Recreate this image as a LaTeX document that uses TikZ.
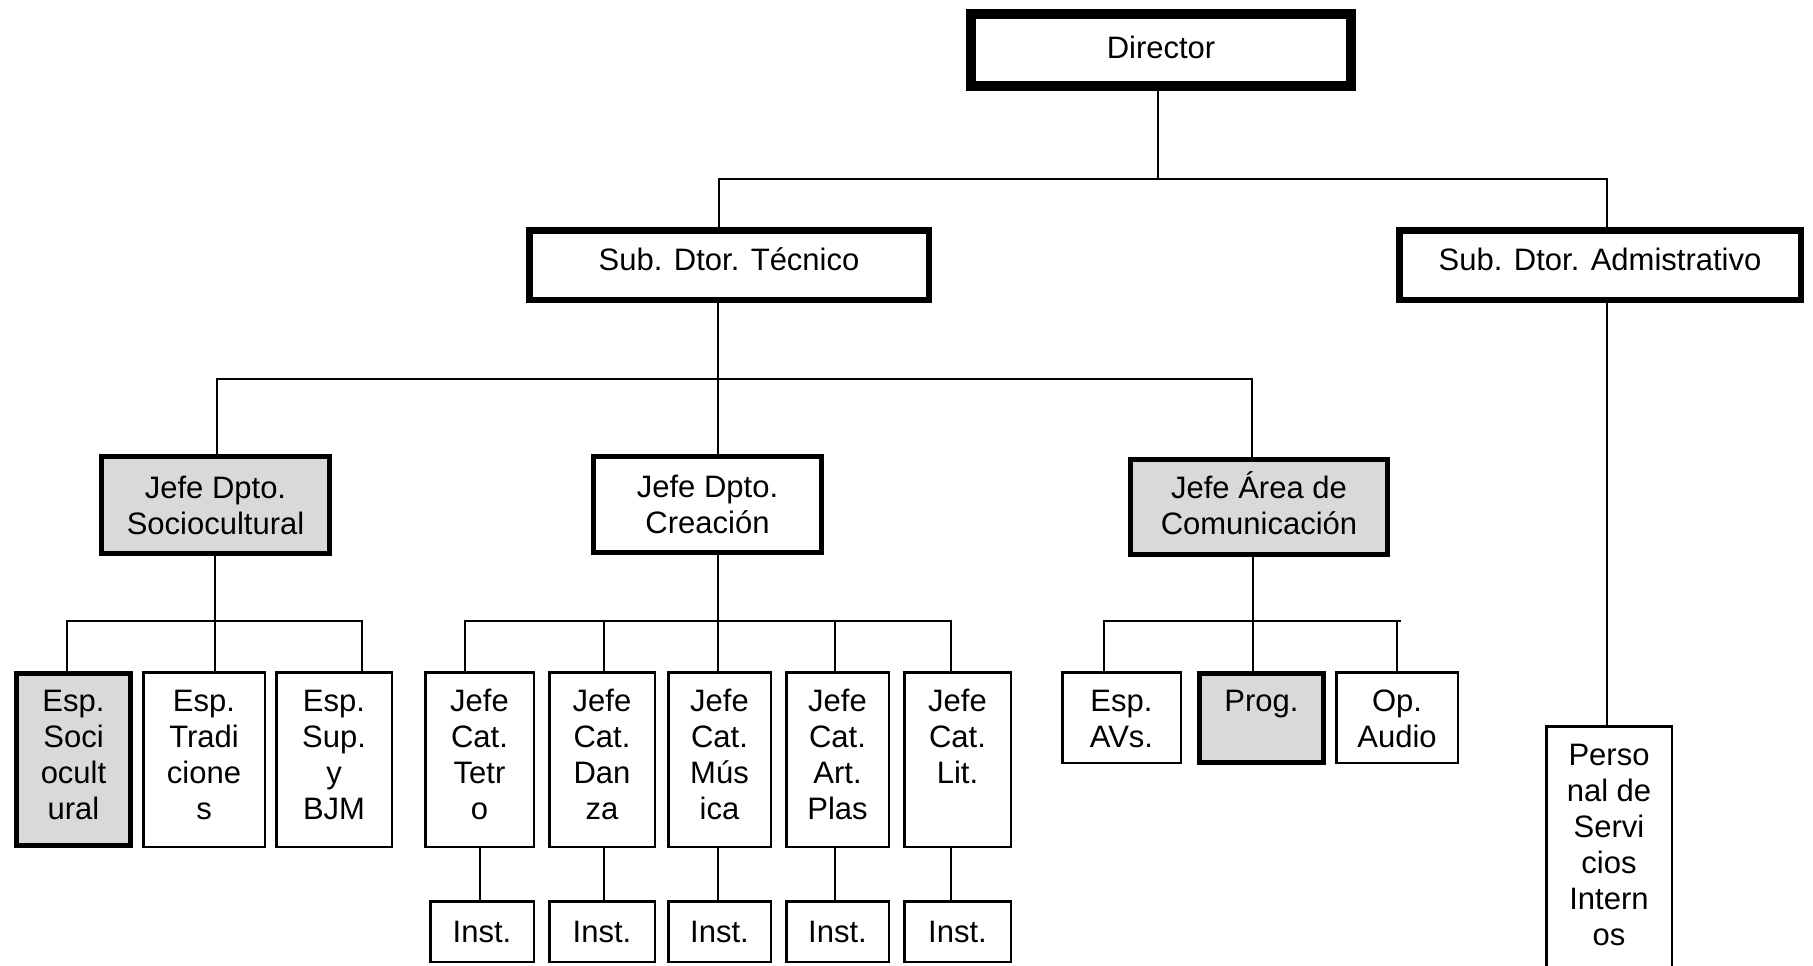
\documentclass[tikz,border=0pt]{standalone}
\usepackage{fontspec}
\setmainfont{Liberation Sans}
\definecolor{boxgrey}{RGB}{217,217,217}
% name, x1, y1, x2, y2, line width, fill, text  (outer edges, pixel units)
\newcommand\orgbox[8]{%
  \node[draw, line width=#6, fill=#7, inner sep=0pt, txt,
        minimum width={#4-#2-#6}, minimum height={#5-#3-#6}]
        (#1) at ({(#2+#4)/2},{(#3+#5)/2}) {#8};}
% text placed on a box, shifted up by #2
\newcommand\boxtext[3]{%
  \node[txt] (#1-t) at ([yshift=#2]#1.center) {#3};}
% same, but text aligned to the top of the box
\newcommand\tallbox[8]{%
  \node[draw, line width=#6, fill=#7, inner sep=0pt,
        minimum width={#4-#2-#6}, minimum height={#5-#3-#6}]
        (#1) at ({(#2+#4)/2},{(#3+#5)/2}) {};
  \node[txt, anchor=north] (#1-t) at ({(#2+#4)/2},{#3+15}) {\strut #8};}
\begin{document}
\begin{tikzpicture}[x=1pt,y=-1pt,
  conn/.style={line width=2pt},
  txt/.style={font=\fontsize{31}{36}\selectfont, align=center, inner sep=0pt, text=black}]
\useasboundingbox (0,0) rectangle (1813,966);
\clip (0,0) rectangle (1813,966);

% ---- boxes ----
\orgbox{dir}{966}{9}{1356}{91}{10}{white}{}
\boxtext{dir}{2.5pt}{Director}
\orgbox{tec}{526}{227}{932}{303}{6.5}{white}{}
\boxtext{tec}{6pt}{Sub. Dtor. Técnico}
\orgbox{adm}{1396}{227}{1804}{303}{6.5}{white}{}
\boxtext{adm}{6pt}{Sub. Dtor. Admistrativo}
\orgbox{soc}{99}{454}{332}{556}{5}{boxgrey}{Jefe Dpto.\\Sociocultural}
\orgbox{cre}{591}{454}{824}{555}{5}{white}{Jefe Dpto.\\Creación}
\orgbox{com}{1128}{457}{1390}{557}{5}{boxgrey}{}
\boxtext{com}{3.5pt}{Jefe Área de\\Comunicación}

\tallbox{esoc}{14}{671}{133}{848}{5}{boxgrey}{Esp.\\Soci\\ocult\\ural}
\tallbox{etra}{142}{671}{266}{848}{2.5}{white}{Esp.\\Tradi\\cione\\s}
\tallbox{esup}{275}{671}{393}{848}{2.5}{white}{Esp.\\Sup.\\y\\BJM}

\tallbox{jc1}{424}{671}{535}{848}{2.5}{white}{Jefe\\Cat.\\Tetr\\o}
\tallbox{jc2}{548}{671}{656}{848}{2.5}{white}{Jefe\\Cat.\\Dan\\za}
\tallbox{jc3}{667}{671}{772}{848}{2.5}{white}{Jefe\\Cat.\\Mús\\ica}
\tallbox{jc4}{785}{671}{890}{848}{2.5}{white}{Jefe\\Cat.\\Art.\\Plas}
\tallbox{jc5}{903}{671}{1012}{848}{2.5}{white}{Jefe\\Cat.\\Lit.}

\orgbox{in1}{429}{900}{535}{963}{2.5}{white}{Inst.}
\orgbox{in2}{548}{900}{656}{963}{2.5}{white}{Inst.}
\orgbox{in3}{667}{900}{772}{963}{2.5}{white}{Inst.}
\orgbox{in4}{785}{900}{890}{963}{2.5}{white}{Inst.}
\orgbox{in5}{903}{900}{1012}{963}{2.5}{white}{Inst.}

\tallbox{eav}{1061}{671}{1182}{764}{2.5}{white}{Esp.\\AVs.}
\tallbox{prog}{1197}{671}{1326}{765}{5}{boxgrey}{Prog.}
\tallbox{opa}{1335}{671}{1459}{764}{2.5}{white}{Op.\\Audio}

\tallbox{per}{1545}{725}{1673}{995}{2.5}{white}{Perso\\nal de\\Servi\\cios\\Intern\\os}

% ---- connectors ----
\draw[conn] (dir.south -| 1158,0) -- (1158,179);
\draw[conn] (tec.north -| 719,0) -- (719,179) -- (1607,179) -- (adm.north -| 1607,0);

\draw[conn] (tec.south -| 718,0) -- (cre.north -| 718,0);
\draw[conn] (soc.north -| 217,0) -- (217,379) -- (1252,379) -- (com.north -| 1252,0);

\draw[conn] (soc.south -| 215,0) -- (215,621);
\draw[conn] (esoc.north -| 67,0) -- (67,621) -- (362,621) -- (esup.north -| 362,0);
\draw[conn] (etra.north -| 215,0) -- (215,621);

\draw[conn] (cre.south -| 718,0) -- (jc3.north -| 718,0);
\draw[conn] (jc1.north -| 465,0) -- (465,621) -- (951,621) -- (jc5.north -| 951,0);
\draw[conn] (jc2.north -| 604,0) -- (604,621);
\draw[conn] (jc4.north -| 835,0) -- (835,621);

\draw[conn] (jc1.south -| 480,0) -- (in1.north -| 480,0);
\draw[conn] (jc2.south -| 604,0) -- (in2.north -| 604,0);
\draw[conn] (jc3.south -| 718,0) -- (in3.north -| 718,0);
\draw[conn] (jc4.south -| 835,0) -- (in4.north -| 835,0);
\draw[conn] (jc5.south -| 951,0) -- (in5.north -| 951,0);

\draw[conn] (com.south -| 1253,0) -- (prog.north -| 1253,0);
\draw[conn] (eav.north -| 1104,0) -- (1104,621) -- (1401,621);
\draw[conn] (opa.north -| 1397,0) -- (1397,621);

\draw[conn] (adm.south -| 1607,0) -- (per.north -| 1607,0);
\end{tikzpicture}
\end{document}
